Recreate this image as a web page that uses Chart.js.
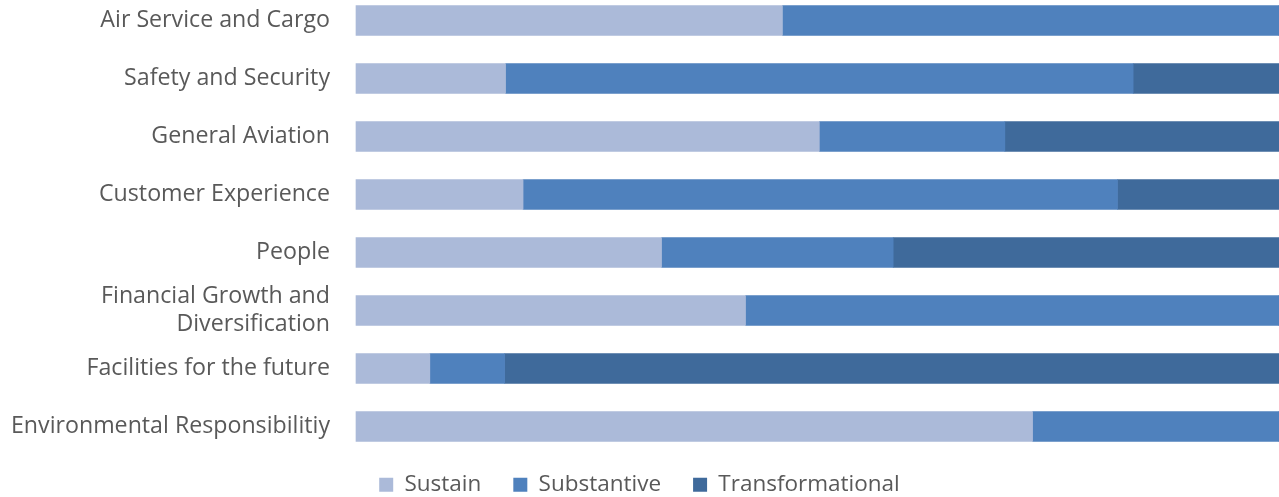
<!DOCTYPE html>
<html>
<head>
<meta charset="utf-8">
<script src="https://cdn.jsdelivr.net/npm/chart.js@4.4.0/dist/chart.umd.min.js"></script>
<style>
  html, body { margin: 0; padding: 0; background: #fff; overflow: hidden; }
  #wrap { width: 1279px; height: 497px; position: relative; }
</style>
</head>
<body>
<div id="wrap"><canvas id="goals-chart"></canvas></div>
<script>
const categories = [
  "Air Service and Cargo",
  "Safety and Security",
  "General Aviation",
  "Customer Experience",
  "People",
  ["Financial Growth and", "Diversification"],
  "Facilities for the future",
  "Environmental Responsibilitiy"
];

// share of each goal area, percent
const sustain          = [46.2, 16.2, 50.2, 18.1, 33.1, 42.2, 8.0, 73.3];
const substantive      = [53.8, 68.0, 20.1, 64.4, 25.1, 57.8, 8.1, 26.7];
const transformational = [0,    15.8, 29.7, 17.5, 41.8, 0,    83.9, 0];

const seriesNames = ["Sustain", "Substantive", "Transformational"];

const textColor = '#595959';
const fontFamily = '"Open Sans", sans-serif';

const goalsCanvas = document.getElementById("goals-chart");

const goalsData = {
  labels: categories,
  datasets: [{
    label: seriesNames[0],
    data: sustain,
    backgroundColor: '#ABBAD9',
    borderWidth: 0,
    barThickness: 30,
    clip: false
  }, {
    label: seriesNames[1],
    data: substantive,
    backgroundColor: '#4F81BD',
    borderWidth: 0,
    barThickness: 30,
    clip: false
  }, {
    label: seriesNames[2],
    data: transformational,
    backgroundColor: '#3F6A9B',
    borderWidth: 0,
    barThickness: 30,
    clip: false
  }]
};

const goalsOptions = {
  indexAxis: 'y',
  responsive: true,
  maintainAspectRatio: false,
  animation: { duration: 0 },
  layout: {
    padding: { top: 20.5, right: 0, bottom: -9, left: 0 }
  },
  scales: {
    x: {
      stacked: true,
      min: 0,
      max: 100,
      ticks: { display: false },
      grid: { display: false, drawTicks: false },
      border: { display: false },
      afterFit: scale => { scale.height = 15; }
    },
    y: {
      stacked: true,
      offset: false,
      grid: { display: false, drawTicks: false },
      border: { display: false },
      ticks: {
        autoSkip: false,
        color: textColor,
        padding: 26,
        font: { family: fontFamily, size: 23.2, lineHeight: 1.2 }
      },
      afterFit: scale => {
        scale.width = 356;
        scale.paddingTop = 0;
        scale.paddingBottom = 0;
      }
    }
  },
  plugins: {
    legend: {
      position: 'bottom',
      labels: {
        color: textColor,
        boxWidth: 14,
        boxHeight: 14,
        padding: 32,
        font: { family: fontFamily, size: 22.5 }
      }
    },
    tooltip: { enabled: false }
  }
};

const goalsChart = new Chart(goalsCanvas, {
  type: 'bar',
  data: goalsData,
  options: goalsOptions
});
</script>
</body>
</html>
